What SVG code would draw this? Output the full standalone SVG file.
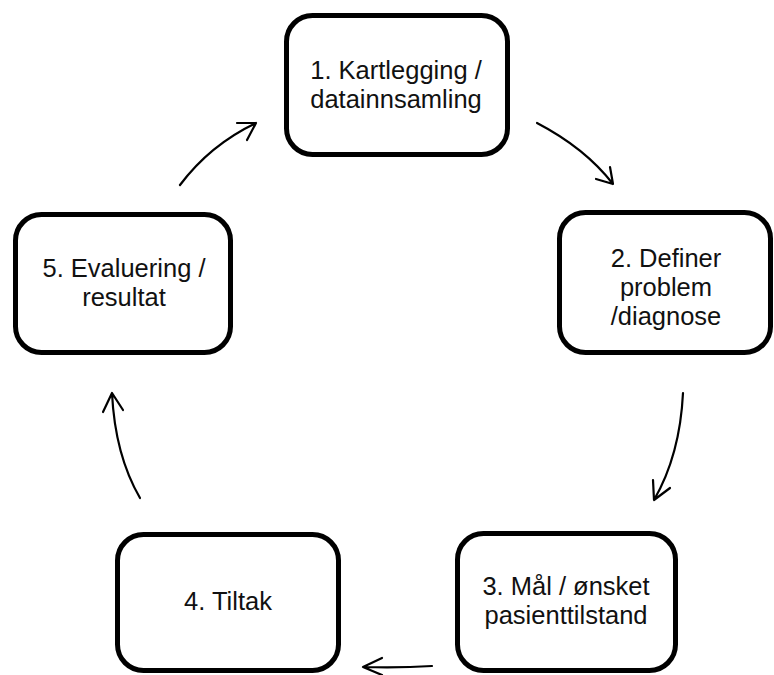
<svg xmlns="http://www.w3.org/2000/svg" width="774" height="675" viewBox="0 0 774 675">
<style>
.box{fill:#fff;stroke:#000;stroke-width:5}
.lbl{font-family:"Liberation Sans",Arial,sans-serif;font-size:25.5px;fill:#111;text-anchor:middle}
.arr{fill:none;stroke:#000;stroke-width:2.2;stroke-linecap:round;stroke-linejoin:round}
</style>
<rect width="774" height="675" fill="#fff"/>
<g id="node1"><rect class="box" x="286.5" y="15.5" width="221" height="139" rx="26"/>
<text class="lbl"><tspan x="396" y="79">1. Kartlegging /</tspan><tspan x="396" y="108">datainnsamling</tspan></text></g>
<g id="node2"><rect class="box" x="559.5" y="212.5" width="211" height="140" rx="26"/>
<text class="lbl"><tspan x="666" y="267">2. Definer</tspan><tspan x="666" y="296">problem</tspan><tspan x="666" y="325">/diagnose</tspan></text></g>
<g id="node3"><rect class="box" x="457.5" y="533.5" width="218" height="137" rx="26"/>
<text class="lbl"><tspan x="566" y="595">3. Mål / ønsket</tspan><tspan x="566" y="624">pasienttilstand</tspan></text></g>
<g id="node4"><rect class="box" x="117.5" y="534.5" width="221" height="136" rx="26"/>
<text class="lbl" x="228" y="610">4. Tiltak</text></g>
<g id="node5"><rect class="box" x="15.5" y="214.5" width="215" height="138" rx="26"/>
<text class="lbl"><tspan x="124" y="277">5. Evaluering /</tspan><tspan x="124" y="306">resultat</tspan></text></g>
<g id="connectors">
<path class="arr" d="M537 123 Q585 148 613 184 M610 167 L613 184 L596 179"/>
<path class="arr" d="M683 393 Q680 455 654 500 M653 480 L654 500 L670 488"/>
<path class="arr" d="M432 666 Q400 668 363 667 M382 658 L363 667 L382 675"/>
<path class="arr" d="M140 498 Q115 455 112 393 M103 412 L112 393 L123 410"/>
<path class="arr" d="M180 185 Q210 145 256 123 M237 123 L256 123 L247 140"/>
</g>
</svg>
